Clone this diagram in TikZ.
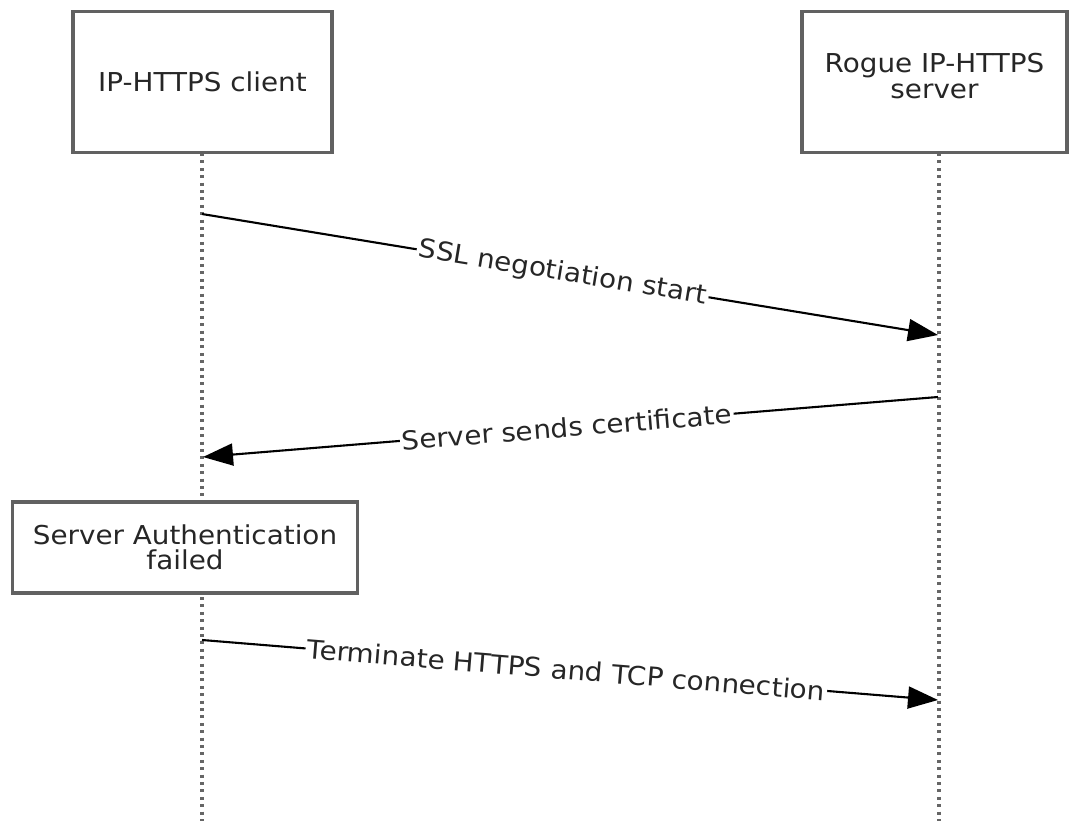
\documentclass[tikz,border=0pt]{standalone}
\usepackage{fontspec}
\setmainfont{DejaVu Sans}[FakeStretch=1.07]
\usetikzlibrary{arrows.meta}
\begin{document}
\begin{tikzpicture}[x=1pt,y=-1pt,
  every node/.style={font=\fontsize{26}{25.5}\selectfont, text=black!85},
  actor/.style={draw=black!62, line width=3.2pt, fill=white, inner sep=0pt, align=center},
  plain/.style={inner sep=0pt, align=center},
  life/.style={draw=black!60, line width=3.2pt, dash pattern=on 3pt off 4.4pt},
  msg/.style={draw=black, line width=2.1pt, -{Triangle[length=30pt,width=22pt]}},
  lbl/.style={fill=white, inner sep=2pt, sloped, midway}]
\useasboundingbox (0,0) rectangle (1069,821);
% lifelines (drawn first)
\coordinate (c0) at (202,153);
\coordinate (c1) at (202,821);
\coordinate (s0) at (939,153);
\coordinate (s1) at (939,821);
\draw[life] (c0) -- (c1);
\draw[life] (s0) -- (s1);
% actor boxes
\node[actor, minimum width=259pt, minimum height=141pt] (client) at (202.5,82) {IP-HTTPS client};
\node[actor, minimum width=265pt, minimum height=141pt] (server) at (934.5,82) {};
\node[plain] (serverlbl) at ([yshift=6pt]server.center) {Rogue IP-HTTPS\\server};
\node[actor, minimum width=345pt, minimum height=91pt] (auth) at (185,547.5) {Server Authentication\\failed};
% messages
\coordinate (m1a) at (202,214);
\coordinate (m1b) at (938,335);
\coordinate (m2a) at (938,397);
\coordinate (m2b) at (203,457);
\coordinate (m3a) at (202,640);
\coordinate (m3b) at (938,700);
\draw[msg] (m1a) -- node[lbl, pos=0.49] {SSL negotiation start} (m1b);
\draw[msg] (m2a) -- node[lbl, pos=0.505] {Server sends certificate} (m2b);
\draw[msg] (m3a) -- node[lbl, pos=0.495] {Terminate HTTPS and TCP connection} (m3b);
\end{tikzpicture}
\end{document}
